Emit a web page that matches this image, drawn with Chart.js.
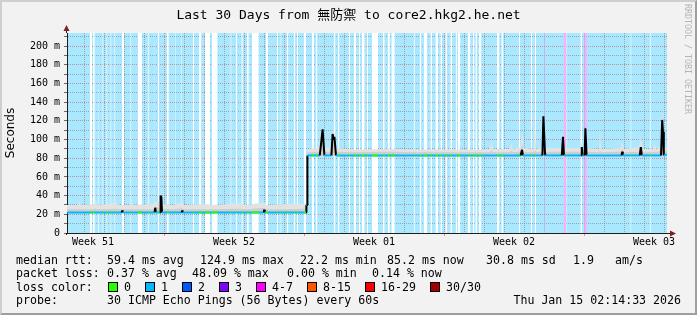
<!DOCTYPE html>
<html>
<head>
<meta charset="utf-8">
<title>Last 30 Days from 無防禦 to core2.hkg2.he.net</title>
<script src="https://cdn.jsdelivr.net/npm/chart.js@4/dist/chart.umd.min.js"></script>
<style>
    html, body { margin: 0; padding: 0; background: #f2f2f2; }
    #wrap { position: relative; width: 697px; height: 315px; overflow: hidden; font-family: 'DejaVu Sans Mono', monospace; color: #000; }
    #chart { position: absolute; left: 0; top: 0; }
    #title { position: absolute; left: 0; top: 7px; width: 697px; text-align: center; font-size: 13px; line-height: 16px; font-family: 'DejaVu Sans Mono', 'Noto Sans CJK TC', monospace; }
    #credit { position: absolute; left: 683px; top: 4px; writing-mode: vertical-rl; font-size: 8.3px; line-height: 9px; color: #b4b4b4; }
    .row { position: absolute; left: 0; width: 697px; height: 14px; font-size: 11.6px; line-height: 14px; white-space: pre; }
    .row span { position: absolute; top: 0; }
    .row .box { width: 8px; height: 8px; top: 2px; border: 1px solid #000; }
    #frame { position: absolute; left: 0; top: 0; width: 697px; height: 315px; box-sizing: border-box; border: 2px solid; border-color: #cfcfcf #9e9e9e #9e9e9e #cfcfcf; pointer-events: none; }
</style>
</head>
<body>
<div id="wrap">
    <canvas id="chart" width="697" height="315"></canvas>
    <div id="title">Last 30 Days from 無防禦 to core2.hkg2.he.net</div>
    <div id="credit">RRDTOOL / TOBI OETIKER</div>

    <div class="row" style="top:253px">
        <span style="left:16px">median rtt:</span>
        <span style="left:107px">59.4 ms avg</span>
        <span style="left:200px">124.9 ms max</span>
        <span style="left:300px">22.2 ms min</span>
        <span style="left:387px">85.2 ms now</span>
        <span style="left:486px">30.8 ms sd</span>
        <span style="left:573px">1.9</span>
        <span style="left:615px">am/s</span>
    </div>
    <div class="row" style="top:266px">
        <span style="left:16px">packet loss:</span>
        <span style="left:107px">0.37 % avg</span>
        <span style="left:192px">48.09 % max</span>
        <span style="left:287px">0.00 % min</span>
        <span style="left:372px">0.14 % now</span>
    </div>
    <div class="row" style="top:280px">
        <span style="left:16px">loss color:</span>
        <span class="box" style="left:108px;background:#26ff00"></span><span style="left:124px">0</span>
        <span class="box" style="left:145px;background:#00b8ff"></span><span style="left:161px">1</span>
        <span class="box" style="left:182px;background:#0059ff"></span><span style="left:198px">2</span>
        <span class="box" style="left:219px;background:#7e00ff"></span><span style="left:235px">3</span>
        <span class="box" style="left:256px;background:#ff00ff"></span><span style="left:272px">4-7</span>
        <span class="box" style="left:307px;background:#ff5500"></span><span style="left:323px">8-15</span>
        <span class="box" style="left:365px;background:#ff0000"></span><span style="left:381px">16-29</span>
        <span class="box" style="left:430px;background:#a00000"></span><span style="left:446px">30/30</span>
    </div>
    <div class="row" style="top:293px">
        <span style="left:16px">probe:</span>
        <span style="left:107px">30 ICMP Echo Pings (56 Bytes) every 60s</span>
        <span style="right:16px">Thu Jan 15 02:14:33 2026</span>
    </div>
    <div id="frame"></div>
</div>

<script>
// x = days since the left edge of the graph, y = milliseconds
const Y_TOP = 214;

const weekLabels = ['Week 51', 'Week 52', 'Week 01', 'Week 02', 'Week 03'];
const weekLabelDays = [1.3, 8.35, 15.35, 22.35, 29.35];
const weekLineDays = [4.865, 11.865, 18.865, 25.865];
const firstDayLine = 0.865;

// median rtt
const medianT = [0, 2.74, 2.76, 2.79, 4.38, 4.41, 4.45, 4.66, 4.68, 4.72, 4.75, 5.74, 5.76, 5.79,
    9.84, 9.86, 9.89, 11.95, 11.97, 12.0, 12.02, 12.64, 12.78, 12.87, 13.22, 13.28, 13.33, 13.37, 13.45,
    22.68, 22.75, 22.8, 23.77, 23.82, 23.9, 23.92, 24.74, 24.8, 24.85, 25.71, 25.74, 25.77,
    25.88, 25.92, 25.98, 27.73, 27.76, 27.79, 28.64, 28.69, 28.74, 29.7, 29.76, 29.8, 29.84, 30];
const medianV = [22, 22, 24, 22, 22, 27, 22, 22, 40, 38, 22, 22, 24, 22,
    22, 25, 22, 22, 30, 30, 83, 83, 111, 83, 83, 106, 100, 103, 83,
    83, 89, 83, 83, 125, 85, 83, 83, 103, 83, 83, 92, 83,
    83, 112, 83, 83, 87, 83, 83, 92, 83, 83, 121, 108, 83, 84];

// smoke (spread of the 30 pings)
const smokeT = [0, 0.55, 0.62, 0.7, 1.35, 1.42, 1.5, 2.0, 2.4, 2.6, 3.15, 3.22, 3.3, 4.3, 4.4, 4.62, 4.69, 4.76,
    5.3, 5.75, 5.85, 6.8, 7.5, 8.6, 9.0, 9.86, 9.95, 11.0, 11.9, 11.96, 11.99,
    12.02, 12.6, 12.7, 12.78, 12.88, 13.2, 13.28, 13.37, 13.46, 14.5, 16.2, 17.5, 19.0, 20.5,
    21.15, 21.22, 21.3, 22.15, 22.22, 22.3, 22.66, 22.76, 22.84, 23.35, 23.4, 23.45, 23.76, 23.82, 23.92,
    24.72, 24.8, 24.88, 25.68, 25.74, 25.8, 25.88, 25.92, 25.99, 26.6, 26.65, 26.7, 27.7, 27.77, 27.85,
    28.6, 28.69, 28.78, 29.3, 29.38, 29.46, 29.68, 29.76, 29.86, 30];
const smokeLo = [21.5, 21.5, 21.5, 21.5, 21.5, 21.5, 21.5, 21.5, 21.5, 21.5, 21.5, 21.5, 21.5, 21.5, 21.5, 21.5, 21.5, 21.5,
    21.5, 21.5, 21.5, 21.5, 21.5, 21.5, 21.5, 21.5, 21.5, 21.5, 21.5, 21.5, 21.5,
    82.5, 82.5, 82.5, 82.5, 82.5, 82.5, 82.5, 82.5, 82.5, 82.5, 82.5, 82.5, 82.5, 82.5,
    82.5, 82.5, 82.5, 82.5, 82.5, 82.5, 82.5, 82.5, 82.5, 82.5, 82.5, 82.5, 82.5, 82.5, 82.5,
    82.5, 82.5, 82.5, 82.5, 82.5, 82.5, 82.5, 82.5, 82.5, 82.5, 82.5, 82.5, 82.5, 82.5, 82.5,
    82.5, 82.5, 82.5, 82.5, 82.5, 82.5, 82.5, 82.5, 82.5, 83.5];
const smokeMid = [25.5, 25.5, 26, 25.5, 25.5, 26.5, 25.5, 25.5, 26, 25.5, 25.5, 26, 25.5, 25.5, 28, 27, 40, 26,
    25.5, 26.5, 25.5, 25.5, 25.5, 26, 25.5, 27, 25.5, 25.5, 26, 30, 30,
    86.5, 87, 95, 111, 87, 87, 106, 103, 87, 86.5, 87, 86.5, 86.5, 86.5,
    86.5, 88, 86.5, 86.5, 88, 86.5, 87, 95, 87, 86.5, 88, 86.5, 87, 120, 87,
    87, 103, 87, 87, 92, 87, 88, 110, 87, 86.5, 88, 86.5, 87, 90, 86.5,
    87, 92, 86.5, 86.5, 87, 86.5, 88, 121, 88, 88];
const smokeHi = [30, 30, 34, 30, 31, 36, 30, 31, 33, 30, 30, 34, 30, 31, 33, 34, 43, 31,
    30, 33, 30, 31, 30, 32, 30, 33, 30, 31, 31, 34, 34,
    90, 91, 104, 114, 91, 92, 110, 107, 91, 89, 90, 89, 89.5, 89,
    90, 99, 90, 90, 96, 90, 92, 108, 91, 90, 128, 90, 92, 126, 91,
    91, 107, 91, 91, 97, 91, 92, 113, 91, 90, 114, 90, 91, 99, 90,
    92, 103, 90, 90, 96, 90, 94, 134, 92, 91];

// packet loss background: default loss color is "1", these spans differ
const noLossSpans = [[1.15, 1.25], [1.30, 1.39], [1.55, 1.59], [1.77, 1.82], [1.97, 2.02], [2.17, 2.22], [2.37, 2.42],
    [2.75, 2.85], [3.17, 3.22], [3.55, 3.75], [4.04, 4.09], [4.34, 4.37], [4.55, 4.60], [5.00, 5.09], [5.42, 5.45],
    [5.72, 5.75], [6.29, 6.35], [6.59, 6.72], [6.89, 7.15], [7.25, 7.53], [8.17, 8.22], [8.45, 8.50], [8.72, 8.79],
    [9.00, 9.09], [9.25, 9.59], [9.95, 10.05], [10.50, 10.55], [10.67, 10.72], [11.00, 11.07], [11.34, 11.40],
    [11.50, 11.55], [11.84, 11.95], [12.25, 12.35], [12.45, 12.52], [13.34, 13.42], [13.55, 13.62], [14.09, 14.15],
    [14.34, 14.45], [14.59, 14.67], [14.75, 14.89], [15.00, 15.05], [15.25, 15.55], [15.79, 15.89], [16.05, 16.14],
    [16.22, 16.39], [17.34, 17.39], [17.64, 17.72], [17.84, 18.00], [18.17, 18.25], [18.42, 18.55], [18.67, 18.75],
    [18.92, 19.00], [19.17, 19.25], [19.44, 19.50], [19.55, 19.67], [20.05, 20.17], [20.30, 20.37], [20.42, 20.50],
    [20.59, 20.72], [21.50, 21.62], [21.72, 21.82], [22.59, 22.65], [23.20, 23.25], [23.39, 23.45], [24.97, 25.00],
    [25.67, 25.75], [28.17, 28.22], [29.14, 29.19]];
const loss3Spans = [[23.84, 23.89], [25.84, 25.89]];
const loss4to7Spans = [[24.84, 24.95], [25.89, 25.99]];

const LOSS0 = '#26ff00';
const LOSS1 = '#00b8ff';
const BG_LOSS1 = '#aae8ff';
const BG_LOSS3 = '#d4aaff';
const BG_LOSS4 = '#ffaaff';
const GRID_MINOR = 'rgba(143,143,143,0.75)';
const GRID_MAJOR = 'rgba(222,79,79,0.6)';
const MONO = "'DejaVu Sans Mono', monospace";

function points(xs, ys) {
    return xs.map((x, i) => ({x: x, y: ys[i]}));
}

function spanData(spans) {
    const pts = [];
    spans.forEach(([a, b]) => {
        pts.push({x: a, y: Y_TOP}, {x: b, y: Y_TOP}, {x: b, y: null});
    });
    return pts;
}

// green pieces of the median where there was no loss
function noLossMedian() {
    const pts = [];
    noLossSpans.forEach(([a, b]) => {
        let i = medianT.length - 1;
        while (i > 0 && medianT[i] > a) i--;
        const j = i + 1;
        if (j < medianT.length && (medianT[j] < b || medianV[j] !== medianV[i])) return;
        pts.push({x: a, y: medianV[i]}, {x: b, y: medianV[i]}, {x: b, y: null});
    });
    return pts;
}

const isWeekLine = v => weekLineDays.some(w => Math.abs(w - v) < 1e-6);
const isLabelTick = v => weekLabelDays.some(w => Math.abs(w - v) < 1e-6);

const xTickValues = Array.from({length: 30}, (_, i) => firstDayLine + i)
    .concat(weekLabelDays).sort((a, b) => a - b);
const yTickValues = Array.from({length: 22}, (_, i) => i * 10);

const framePlugin = {
    id: 'framePlugin',
    beforeDraw(chart) {
        const {ctx, chartArea: a} = chart;
        ctx.save();
        ctx.fillStyle = BG_LOSS1;
        ctx.fillRect(a.left, a.top, a.right - a.left, a.bottom - a.top);
        ctx.restore();
    },
    afterDraw(chart) {
        const {ctx, chartArea: a} = chart;
        const x0 = Math.round(a.left) - 0.5;
        const y0 = Math.round(a.bottom) + 0.5;
        ctx.save();
        ctx.strokeStyle = '#1f1f1f';
        ctx.lineWidth = 1;
        ctx.beginPath();
        ctx.moveTo(a.right, y0);
        ctx.lineTo(a.right + 4, y0);
        ctx.moveTo(x0, a.top);
        ctx.lineTo(x0, a.top - 3);
        ctx.moveTo(x0, a.bottom);
        ctx.lineTo(x0, a.bottom + 2);
        ctx.stroke();
        ctx.fillStyle = '#801f1f';
        ctx.beginPath();
        ctx.moveTo(a.right + 9, y0);
        ctx.lineTo(a.right + 3, y0 - 3);
        ctx.lineTo(a.right + 3, y0 + 3);
        ctx.closePath();
        ctx.fill();
        ctx.beginPath();
        ctx.moveTo(x0, a.top - 8);
        ctx.lineTo(x0 - 3, a.top - 2);
        ctx.lineTo(x0 + 3, a.top - 2);
        ctx.closePath();
        ctx.fill();
        ctx.restore();
    }
};

const base = {pointRadius: 0, pointHoverRadius: 0, tension: 0, spanGaps: false, borderJoinStyle: 'bevel'};

new Chart(document.getElementById('chart'), {
    type: 'line',
    data: {
        datasets: [
            Object.assign({}, base, {
                label: 'loss 0',
                data: noLossMedian(),
                borderColor: LOSS0,
                borderWidth: 2,
                borderCapStyle: 'butt',
                fill: false
            }),
            Object.assign({}, base, {
                label: 'median rtt',
                data: points(medianT, medianV),
                borderColor: LOSS1,
                borderWidth: 2,
                fill: false,
                segment: {
                    borderColor: c => Math.abs(c.p1.parsed.y - c.p0.parsed.y) > 1.5 ? '#000000' : LOSS1
                }
            }),
            Object.assign({}, base, {
                label: 'smoke inner',
                data: points(smokeT, smokeMid),
                borderWidth: 0,
                borderColor: 'rgba(0,0,0,0)',
                backgroundColor: '#cdcdcd',
                fill: 4
            }),
            Object.assign({}, base, {
                label: 'smoke outer',
                data: points(smokeT, smokeHi),
                borderWidth: 0,
                borderColor: 'rgba(0,0,0,0)',
                backgroundColor: '#e2e2e2',
                fill: 4
            }),
            Object.assign({}, base, {
                label: 'smoke low',
                data: points(smokeT, smokeLo),
                borderWidth: 0,
                borderColor: 'rgba(0,0,0,0)',
                fill: false
            }),
            Object.assign({}, base, {
                label: 'loss 3',
                data: spanData(loss3Spans),
                borderWidth: 0,
                borderColor: 'rgba(0,0,0,0)',
                backgroundColor: BG_LOSS3,
                fill: 'origin'
            }),
            Object.assign({}, base, {
                label: 'loss 4-7',
                data: spanData(loss4to7Spans),
                borderWidth: 0,
                borderColor: 'rgba(0,0,0,0)',
                backgroundColor: BG_LOSS4,
                fill: 'origin'
            }),
            Object.assign({}, base, {
                label: 'no loss',
                data: spanData(noLossSpans),
                borderWidth: 0,
                borderColor: 'rgba(0,0,0,0)',
                backgroundColor: '#ffffff',
                fill: 'origin'
            })
        ]
    },
    options: {
        responsive: false,
        devicePixelRatio: 1,
        animation: false,
        events: [],
        layout: {padding: {left: 0, right: 30, top: 33, bottom: 62}},
        plugins: {
            legend: {display: false},
            tooltip: {enabled: false}
        },
        scales: {
            x: {
                type: 'linear',
                min: 0,
                max: 30,
                z: 1,
                afterBuildTicks: s => { s.ticks = xTickValues.map(v => ({value: v})); },
                afterFit: s => { s.height = 20; },
                ticks: {
                    autoSkip: false,
                    maxRotation: 0,
                    padding: 0,
                    color: '#000',
                    font: {family: MONO, size: 10},
                    callback: v => {
                        const i = weekLabelDays.findIndex(w => Math.abs(w - v) < 1e-6);
                        return i >= 0 ? weekLabels[i] : '';
                    }
                },
                grid: {
                    color: c => isLabelTick(c.tick.value) ? 'rgba(0,0,0,0)' : (isWeekLine(c.tick.value) ? GRID_MAJOR : GRID_MINOR),
                    tickLength: 3,
                    tickColor: c => isWeekLine(c.tick.value) ? GRID_MAJOR : 'rgba(0,0,0,0)'
                },
                border: {color: '#1f1f1f', width: 1, dash: [1, 1]}
            },
            y: {
                type: 'linear',
                min: 0,
                max: Y_TOP,
                z: 1,
                afterBuildTicks: s => { s.ticks = yTickValues.map(v => ({value: v})); },
                afterFit: s => { s.width = 67; },
                ticks: {
                    autoSkip: false,
                    padding: 4,
                    color: '#000',
                    font: {family: MONO, size: 10},
                    callback: v => v % 20 ? '' : (v ? v + ' m' : '0')
                },
                grid: {
                    color: c => c.tick.value % 20 ? GRID_MINOR : GRID_MAJOR,
                    tickLength: 3,
                    tickColor: 'rgba(90,90,90,0.9)'
                },
                border: {color: '#1f1f1f', width: 1, dash: [1, 1]},
                title: {
                    display: true,
                    text: 'Seconds',
                    color: '#000',
                    font: {family: "'DejaVu Sans', sans-serif", size: 12},
                    padding: {top: 4, bottom: 0}
                }
            }
        }
    },
    plugins: [framePlugin]
});
</script>
</body>
</html>
